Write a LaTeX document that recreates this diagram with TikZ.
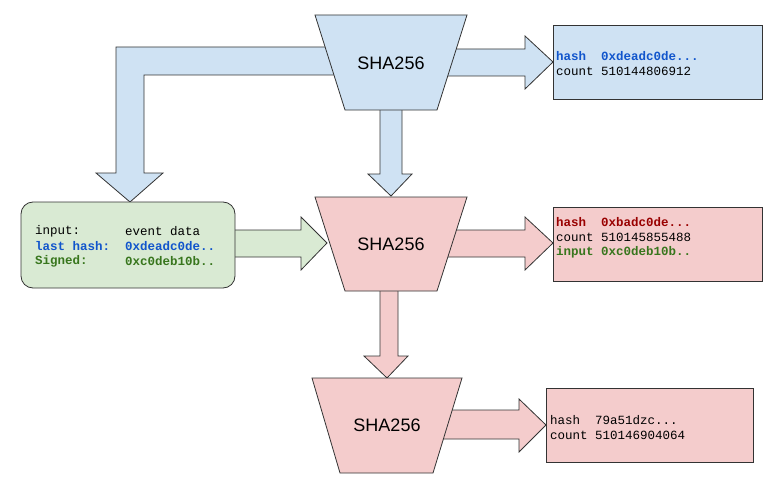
\documentclass[tikz,border=0pt]{standalone}
\usepackage{fontspec}
\setmainfont{Liberation Sans}
\newfontfamily\mono{Liberation Mono}
\begin{document}
\begin{tikzpicture}[x=1pt,y=-1pt,
  blk/.style={draw=black!80,line width=0.8pt,line join=miter},
  bfill/.style={fill={rgb,255:red,207;green,226;blue,243}},
  pfill/.style={fill={rgb,255:red,244;green,204;blue,204}},
  gfill/.style={fill={rgb,255:red,217;green,234;blue,211}},
  sha/.style={font=\fontsize{18}{20}\selectfont},
  txt/.style={anchor=west,font=\mono\fontsize{12.5}{15}\selectfont,inner sep=0pt},
]
\definecolor{tb}{RGB}{17,85,204}
\definecolor{tr}{RGB}{153,0,0}
\definecolor{tg}{RGB}{56,118,29}
\useasboundingbox (0,0) rectangle (775,492);
% arrows
\draw[blk,bfill] (391,47) -- (116,47) -- (116,173) -- (96,173) -- (130,202) -- (163,173) -- (144,173) -- (144,75) -- (391,75) -- cycle;
\draw[blk,bfill] (391,49) -- (525,49) -- (525,36) -- (553,62) -- (525,89) -- (525,76) -- (391,76) -- cycle;
\draw[blk,bfill] (380,100) -- (380,174) -- (368,174) -- (391,196) -- (412,174) -- (402,174) -- (402,100) -- cycle;
\draw[blk,gfill] (230,230) -- (301,230) -- (301,217) -- (327,243) -- (301,270) -- (301,257) -- (230,257) -- cycle;
\draw[blk,pfill] (391,230) -- (525,230) -- (525,217) -- (553,243) -- (525,270) -- (525,257) -- (391,257) -- cycle;
\draw[blk,pfill] (380,280) -- (380,356) -- (364,356) -- (387,378) -- (408,356) -- (398,356) -- (398,280) -- cycle;
\draw[blk,pfill] (387,410) -- (519,410) -- (519,399) -- (546,425) -- (519,452) -- (519,439) -- (387,439) -- cycle;
% trapezoids
\draw[blk,bfill] (315,15) -- (467,15) -- (437,110) -- (345,110) -- cycle;
\node[sha] (s1) at (391,63) {SHA256};
\draw[blk,pfill] (315,197) -- (467,197) -- (437,291) -- (345,291) -- cycle;
\node[sha] (s2) at (391,244) {SHA256};
\draw[blk,pfill] (312,378) -- (462,378) -- (433,473) -- (340,473) -- cycle;
\node[sha] (s3) at (387,425) {SHA256};
% boxes
\draw[blk,bfill] (553,25) rectangle (762,99);
\node[txt,text=tb] (b1a) at (556,56) {\bfseries hash\ \ 0xdeadc0de...};
\node[txt] (b1b) at (556,71) {count 510144806912};
\draw[blk,pfill] (553,207) rectangle (762,281);
\node[txt,text=tr] (b2a) at (556,222) {\bfseries hash\ \ 0xbadc0de...};
\node[txt] (b2b) at (556,237) {count 510145855488};
\node[txt,text=tg] (b2c) at (556,252) {\bfseries input 0xc0deb10b..};
\draw[blk,pfill] (546,388) rectangle (753,462);
\node[txt] (b3a) at (550,420) {hash\ \ 79a51dzc...};
\node[txt] (b3b) at (550,435) {count 510146904064};
\draw[blk,gfill,rounded corners=12pt] (21,202) rectangle (235,288);
\node[txt] (g1) at (35,231) {input:};
\node[txt] (g1v) at (125,231) {event data};
\node[txt,text=tb] (g2) at (35,246) {\bfseries last hash:};
\node[txt,text=tb] (g2v) at (125,246) {\bfseries 0xdeadc0de..};
\node[txt,text=tg] (g3) at (35,261) {\bfseries Signed:};
\node[txt,text=tg] (g3v) at (125,261) {\bfseries 0xc0deb10b..};
\end{tikzpicture}
\end{document}
